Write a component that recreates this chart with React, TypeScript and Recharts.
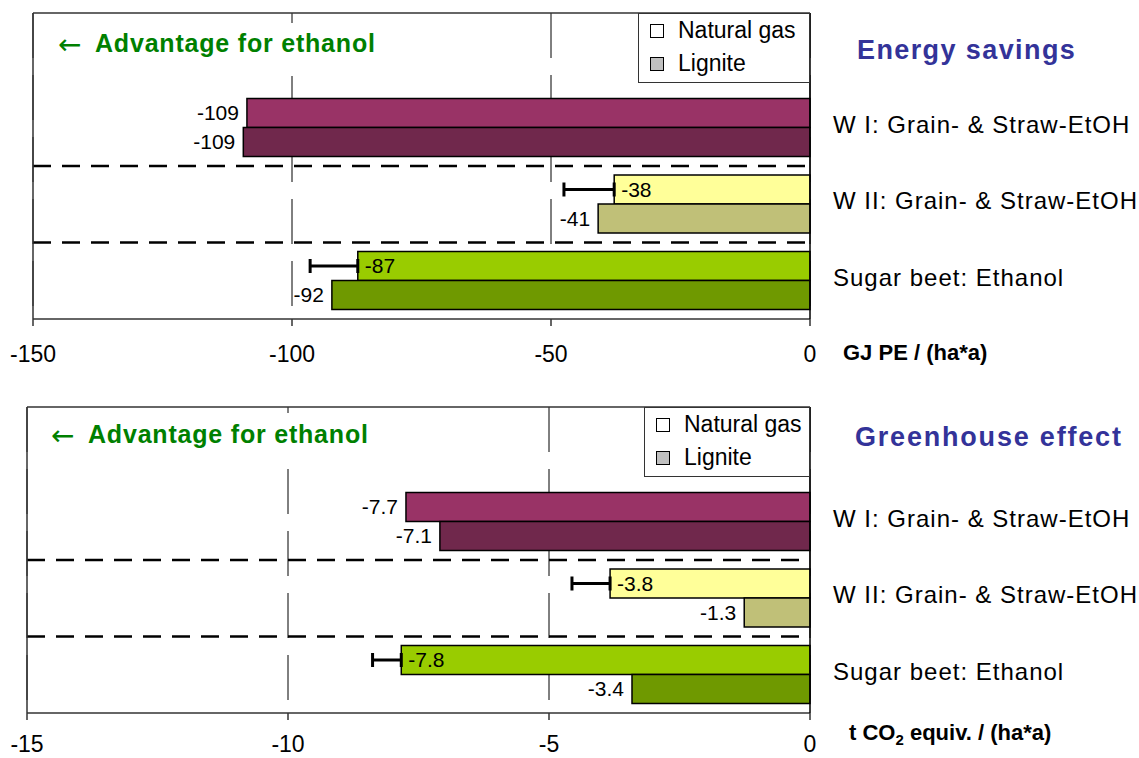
import React from 'react';
import {
  BarChart,
  Bar,
  XAxis,
  YAxis,
  CartesianGrid,
  ReferenceLine,
  ReferenceArea,
  Cell,
  LabelList,
  ErrorBar,
  Legend,
} from 'recharts';

const FONT = '"Liberation Sans", Arial, Helvetica, sans-serif';

const categories = ['W I: Grain- & Straw-EtOH', 'W II: Grain- & Straw-EtOH', 'Sugar beet: Ethanol'];
const seriesNames = ['Natural gas', 'Lignite'];

// Energy savings, GJ PE / (ha*a)
const energyNaturalGas = [-108.7, -37.8, -87.3];
const energyLignite = [-109.4, -40.9, -92.3];
const energyNaturalGasError = [null, 9.7, 9.2];
const energyTicks = [-150, -100, -50, 0];

// Greenhouse effect, t CO2 equiv. / (ha*a)
const ghgNaturalGas = [-7.74, -3.83, -7.83];
const ghgLignite = [-7.09, -1.26, -3.41];
const ghgNaturalGasError = [null, 0.73, 0.55];
const ghgTicks = [-15, -10, -5, 0];

const naturalGasColors = ['#993366', '#FFFF99', '#99CC00'];
const ligniteColors = ['#70284C', '#C0C078', '#6F9900'];
const legendColors = ['#FFFFFF', '#C0C0C0'];

const CHART_W = 1139;
const CHART_H = 385;
const PLOT_BOTTOM = 319;
const PLOT_RIGHT = 810;
const SPACER = ' ';

type Row = { cat: string; ng: number | null; lg: number | null; err: number[] | null };

// first row is an empty band that holds the note and the legend
const buildRows = (ng: number[], lg: number[], err: (number | null)[]): Row[] => [
  { cat: SPACER, ng: null, lg: null, err: null },
  ...categories.map((c, i) => ({
    cat: c,
    ng: ng[i],
    lg: lg[i],
    err: err[i] != null ? [err[i] as number, 0] : null,
  })),
];

const makeLabel = (rows: Row[], fmt: (v: number) => string, isNaturalGas: boolean) => (props: any) => {
  const vb = props.viewBox || props;
  const { value } = props;
  if (value == null || vb == null) return null;
  const x = Number(vb.x);
  const w = Number(vb.width);
  const y = Number(vb.y);
  const h = Number(vb.height);
  const left = Math.min(x, x + w);
  const row = rows.find((r) => (isNaturalGas ? r.ng : r.lg) === Number(value));
  const inside = isNaturalGas && row != null && row.err != null;
  return (
    <text
      x={inside ? left + 7 : left - 8}
      y={y + h / 2}
      dy="0.34em"
      textAnchor={inside ? 'start' : 'end'}
      fontSize={21}
      fontFamily={FONT}
      fill="#000"
    >
      {fmt(Number(value))}
    </text>
  );
};

const CategoryTick = (props: any) => {
  const { x, y, payload } = props;
  if (!payload || !String(payload.value).trim()) return null;
  return (
    <text x={x} y={y} dy={5} textAnchor="start" fontSize={24} letterSpacing={1} fontFamily={FONT} fill="#000">
      {payload.value}
    </text>
  );
};

// draws one edge of a category band as a line
const bandEdge = (edge: 'top' | 'bottom', style: any) => (p: any) => {
  const y = edge === 'top' ? p.y : p.y + p.height;
  return <line x1={p.x} x2={p.x + p.width} y1={y} y2={y} fill="none" {...style} />;
};

const renderLegend = (props: any) => {
  const items = [...(props.payload || [])].sort(
    (a: any, b: any) => seriesNames.indexOf(a.value) - seriesNames.indexOf(b.value)
  );
  return (
    <div
      style={{
        boxSizing: 'border-box',
        width: '100%',
        height: 70,
        background: '#fff',
        border: '1px solid #333',
        fontFamily: FONT,
        fontSize: 23,
        color: '#000',
        paddingLeft: 11,
        whiteSpace: 'nowrap',
      }}
    >
      {items.map((p: any) => (
        <div key={p.value} style={{ display: 'flex', alignItems: 'center', height: 33 }}>
          <span
            style={{
              display: 'inline-block',
              boxSizing: 'border-box',
              width: 14,
              height: 14,
              border: '1.5px solid #000',
              background: p.color,
              marginRight: 14,
            }}
          />
          <span>{p.value}</span>
        </div>
      ))}
    </div>
  );
};

interface PanelProps {
  rows: Row[];
  ticks: number[];
  fmt: (v: number) => string;
  plotLeft: number;
  legendLeft: number;
  top: number;
  tickGap: number;
}

const Panel: React.FC<PanelProps> = ({ rows, ticks, fmt, plotLeft, legendLeft, top, tickGap }) => (
  <div style={{ position: 'absolute', left: 0, top }}>
    <BarChart
      width={CHART_W}
      height={CHART_H}
      data={rows}
      layout="vertical"
      margin={{ top: 13, right: 0, bottom: 0, left: plotLeft }}
      barGap={0}
      barSize={29}
    >
      <CartesianGrid yAxisId="cat" horizontal={false} stroke="#000" strokeWidth={1} strokeDasharray="45 17" />
      <XAxis
        type="number"
        domain={[ticks[0], ticks[ticks.length - 1]]}
        ticks={ticks}
        interval={0}
        height={CHART_H - PLOT_BOTTOM}
        tickSize={7}
        tickMargin={tickGap}
        axisLine={{ stroke: '#333', strokeWidth: 1.5 }}
        tickLine={{ stroke: '#333', strokeWidth: 1.5 }}
        tick={{ fontSize: 23, fill: '#000', fontFamily: FONT }}
      />
      <YAxis yAxisId="cat" type="category" dataKey="cat" hide />
      <YAxis
        yAxisId="catR"
        type="category"
        dataKey="cat"
        orientation="right"
        width={CHART_W - PLOT_RIGHT}
        interval={0}
        tickSize={0}
        tickMargin={23}
        tickLine={false}
        axisLine={{ stroke: '#000', strokeWidth: 1.5 }}
        tick={<CategoryTick />}
      />
      <ReferenceArea
        yAxisId="cat"
        y1={SPACER}
        y2={SPACER}
        shape={bandEdge('top', { stroke: '#333', strokeWidth: 1.5 })}
      />
      {categories.slice(0, -1).map((c) => (
        <ReferenceArea
          key={c}
          yAxisId="cat"
          y1={c}
          y2={c}
          shape={bandEdge('bottom', { stroke: '#000', strokeWidth: 2.5, strokeDasharray: '18 11' })}
        />
      ))}
      <ReferenceLine yAxisId="cat" x={ticks[0]} stroke="#333" strokeWidth={1.5} />
      <Bar
        yAxisId="cat"
        dataKey="ng"
        name={seriesNames[0]}
        fill={legendColors[0]}
        stroke="#000"
        strokeWidth={1.5}
        isAnimationActive={false}
      >
        {rows.map((r, i) => (
          <Cell key={i} fill={i === 0 ? '#fff' : naturalGasColors[i - 1]} />
        ))}
        <ErrorBar dataKey="err" direction="x" width={7} strokeWidth={3} stroke="#000" isAnimationActive={false} />
        <LabelList dataKey="ng" content={makeLabel(rows, fmt, true)} />
      </Bar>
      <Bar
        yAxisId="cat"
        dataKey="lg"
        name={seriesNames[1]}
        fill={legendColors[1]}
        stroke="#000"
        strokeWidth={1.5}
        isAnimationActive={false}
      >
        {rows.map((r, i) => (
          <Cell key={i} fill={i === 0 ? '#fff' : ligniteColors[i - 1]} />
        ))}
        <LabelList dataKey="lg" content={makeLabel(rows, fmt, false)} />
      </Bar>
      <Legend
        layout="horizontal"
        verticalAlign="middle"
        align="center"
        width={PLOT_RIGHT - legendLeft}
        wrapperStyle={{ left: legendLeft, top: 13, width: PLOT_RIGHT - legendLeft, height: 70 }}
        content={renderLegend}
      />
    </BarChart>
  </div>
);

const energyRows = buildRows(energyNaturalGas, energyLignite, energyNaturalGasError);
const ghgRows = buildRows(ghgNaturalGas, ghgLignite, ghgNaturalGasError);

const ARROW_FONT = '"DejaVu Sans", sans-serif';

const Notes: React.FC = () => (
  <svg
    width={CHART_W}
    height={758}
    style={{ position: 'absolute', left: 0, top: 0, pointerEvents: 'none' }}
    fontFamily={FONT}
  >
    {/* top panel */}
    <rect x={50} y={23} width={335} height={53} fill="#fff" />
    <text x={58} y={54} fontSize={28} fontFamily={ARROW_FONT} fill="#008000">←</text>
    <text x={95} y={52} fontSize={25} fontWeight="bold" letterSpacing={0.8} fill="#008000">
      Advantage for ethanol
    </text>
    <text x={857} y={59} fontSize={27} fontWeight="bold" letterSpacing={1.4} fill="#333399">
      Energy savings
    </text>
    <text x={843} y={360} fontSize={22} fontWeight="bold" fill="#000">
      GJ PE / (ha*a)
    </text>

    {/* bottom panel */}
    <rect x={45} y={413} width={335} height={54} fill="#fff" />
    <text x={51} y={445} fontSize={28} fontFamily={ARROW_FONT} fill="#008000">←</text>
    <text x={88} y={443} fontSize={25} fontWeight="bold" letterSpacing={0.8} fill="#008000">
      Advantage for ethanol
    </text>
    <text x={855} y={446} fontSize={27} fontWeight="bold" letterSpacing={1.8} fill="#333399">
      Greenhouse effect
    </text>
    <text x={849} y={740} fontSize={22} fontWeight="bold" fill="#000">
      <tspan>t CO</tspan>
      <tspan fontSize={15} dy={5}>2</tspan>
      <tspan dy={-5}> equiv. / (ha*a)</tspan>
    </text>
  </svg>
);

const App: React.FC = () => (
  <div
    style={{
      position: 'absolute',
      left: 0,
      top: 0,
      width: CHART_W,
      height: 758,
      background: '#fff',
      fontFamily: FONT,
      overflow: 'hidden',
    }}
  >
    <Panel
      rows={energyRows}
      ticks={energyTicks}
      fmt={(v) => String(Math.round(v))}
      plotLeft={33}
      legendLeft={638}
      top={0}
      tickGap={20}
    />
    <Panel
      rows={ghgRows}
      ticks={ghgTicks}
      fmt={(v) => v.toFixed(1)}
      plotLeft={27}
      legendLeft={644}
      top={394}
      tickGap={16}
    />
    <Notes />
  </div>
);

export default App;
